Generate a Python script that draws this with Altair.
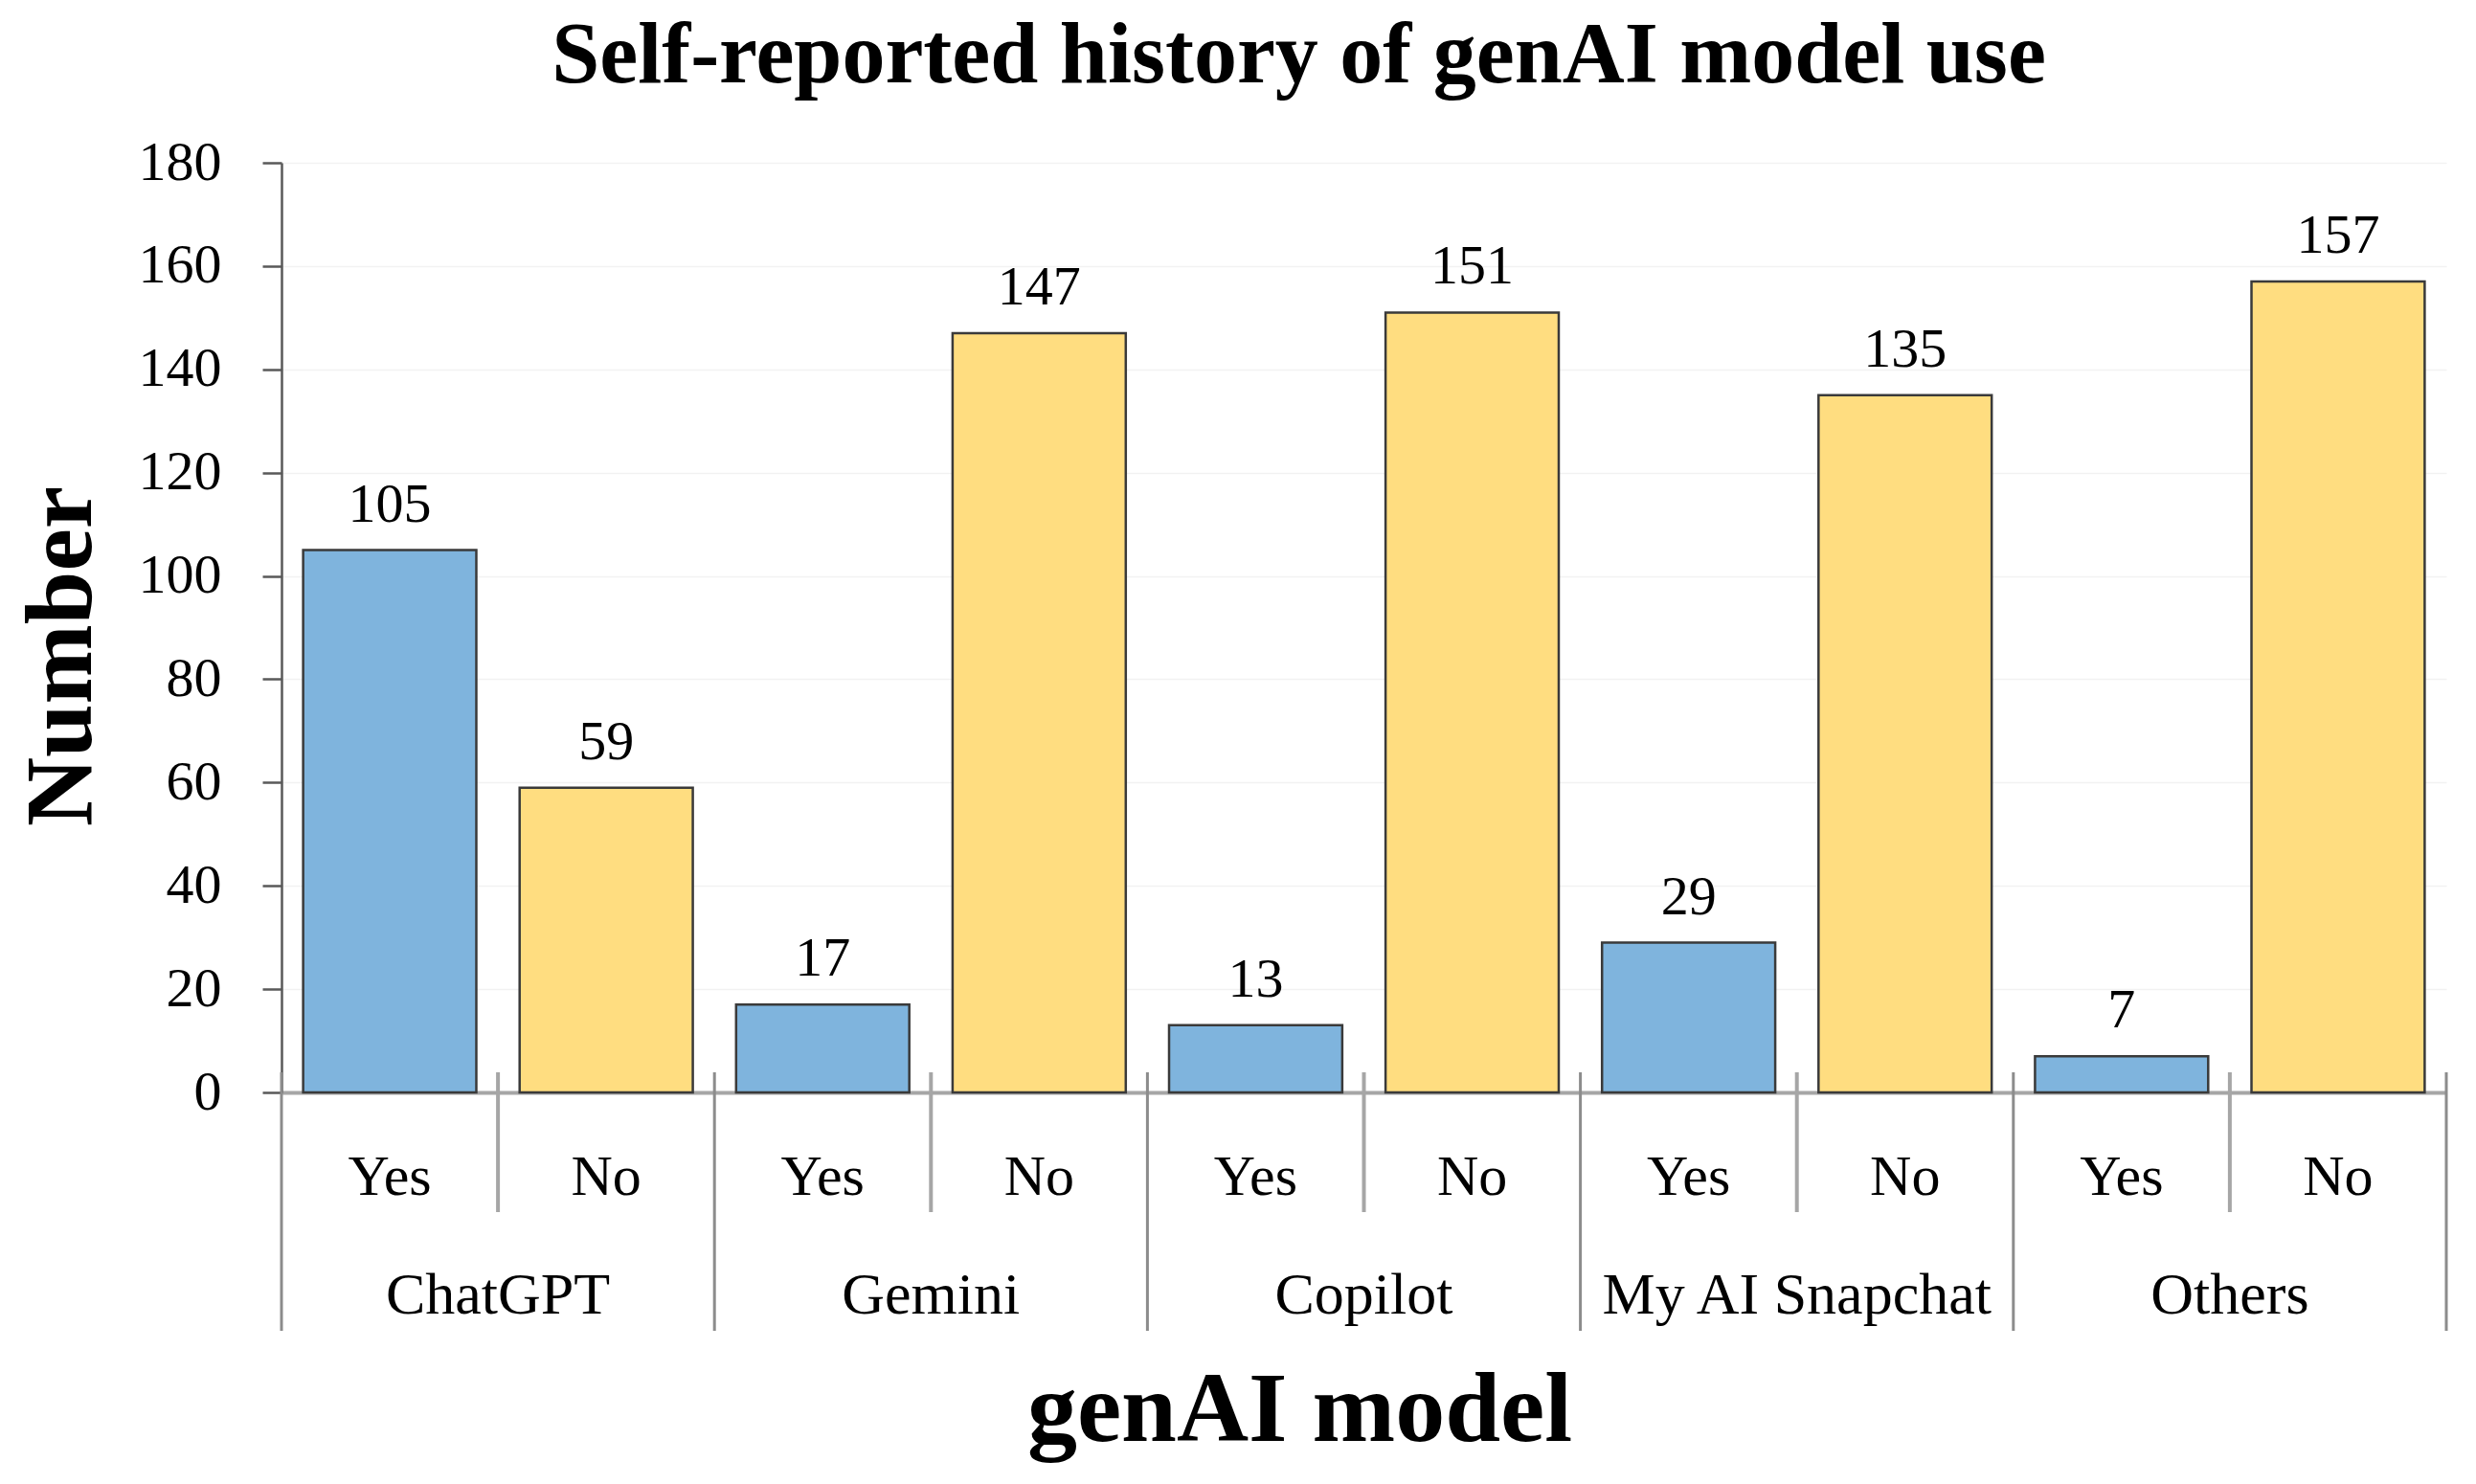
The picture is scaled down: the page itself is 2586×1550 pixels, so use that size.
import altair as alt
import pandas as pd

# ---- data ----
models = ["ChatGPT", "Gemini", "Copilot", "My AI Snapchat", "Others"]
answers = ["Yes", "No"]
yes_counts = [105, 17, 13, 29, 7]
no_counts = [59, 147, 151, 135, 157]
y_ticks = [0, 20, 40, 60, 80, 100, 120, 140, 160, 180]

title_text = "Self-reported history of genAI model use"
x_title = "genAI model"
y_title = "Number"

colors = ["#7fb4dd", "#ffdd80"]
FONT = "Liberation Serif"

rows = []
for i, m in enumerate(models):
    for a, v in zip(answers, [yes_counts[i], no_counts[i]]):
        rows.append({"key": f"{m}|{a}", "model": m, "answer": a, "count": v})
df = pd.DataFrame(rows)
keys = list(df["key"])
n = len(keys)

sep_df = pd.DataFrame({"pos": list(range(n + 1))})
sep_df["kind"] = ["group" if p % 2 == 0 else "sub" for p in sep_df["pos"]]
group_df = pd.DataFrame({"model": models, "pos": [2 * i + 1 for i in range(len(models))]})

W, H = 2261, 971

band = alt.Scale(paddingInner=0.2, paddingOuter=0.1)
lin = alt.Scale(domain=[0, n], nice=False, zero=False)
yscale = alt.Scale(domain=[0, 180], nice=False)

bars = alt.Chart(df).mark_bar(stroke="#3a3a3a", strokeWidth=2.5).encode(
    x=alt.X("key:N", sort=keys, scale=band,
            axis=alt.Axis(labelExpr="split(datum.value, '|')[1]", labelAngle=0,
                          labelFont=FONT, labelFontSize=60, labelColor="black",
                          labelBaseline="alphabetic", labelPadding=106,
                          ticks=False, tickSize=0,
                          domainColor="#a6a6a6", domainWidth=4,
                          title=x_title, titleFont=FONT, titleFontSize=104,
                          titleFontWeight="bold", titleColor="black",
                          titleBaseline="alphabetic", titleY=363,
                          titleX=1063, titleAlign="center",
                          grid=False)),
    y=alt.Y("count:Q", scale=yscale,
            axis=alt.Axis(values=y_ticks, labelFont=FONT, labelFontSize=58,
                          labelColor="black", labelPadding=43, tickSize=20,
                          tickColor="#595959", tickWidth=2.5,
                          domainColor="#595959", domainWidth=2.5,
                          gridColor="#f2f2f2", gridWidth=1.5,
                          title=y_title, titleFont=FONT, titleFontSize=100,
                          titleFontWeight="bold", titleColor="black",
                          titleAngle=-90, titleBaseline="alphabetic",
                          titleAlign="center", titleX=-200, titleY=515)),
    color=alt.Color("answer:N", scale=alt.Scale(domain=answers, range=colors), legend=None),
)

labels = alt.Chart(df).mark_text(font=FONT, fontSize=58, baseline="alphabetic",
                                 dy=-30, color="black").encode(
    x=alt.X("key:N", sort=keys, scale=band, axis=None),
    y=alt.Y("count:Q", scale=yscale),
    text="count:Q",
)

seps_sub = alt.Chart(sep_df).transform_filter("datum.kind == 'sub'").mark_rule(
    color="#a6a6a6", strokeWidth=4).encode(
    x=alt.X("pos:Q", scale=lin, axis=None),
    y=alt.value(H - 21), y2=alt.value(H + 125),
)
seps_group = alt.Chart(sep_df).transform_filter("datum.kind == 'group'").mark_rule(
    color="#8c8c8c", strokeWidth=3).encode(
    x=alt.X("pos:Q", scale=lin, axis=None),
    y=alt.value(H - 21), y2=alt.value(H + 249),
)

group_labels = alt.Chart(group_df).mark_text(font=FONT, fontSize=62, baseline="alphabetic",
                                             color="black").encode(
    x=alt.X("pos:Q", scale=lin, axis=None),
    y=alt.value(H + 231),
    text="model:N",
)

chart = alt.layer(bars, labels, seps_sub, seps_group, group_labels).resolve_scale(
    x="independent"
).properties(
    width=W, height=H,
    title=alt.TitleParams(title_text, font=FONT, fontSize=90, fontWeight="bold",
                          color="black", anchor="middle", frame="group",
                          baseline="alphabetic", offset=64, dx=-68, dy=99),
    autosize=alt.AutoSizeParams(type="none"),
    padding={"left": 286, "top": 162, "right": 23, "bottom": 390},
).configure_view(stroke=None)

chart.save("out.html", embed_options={"renderer": "svg", "actions": False})
